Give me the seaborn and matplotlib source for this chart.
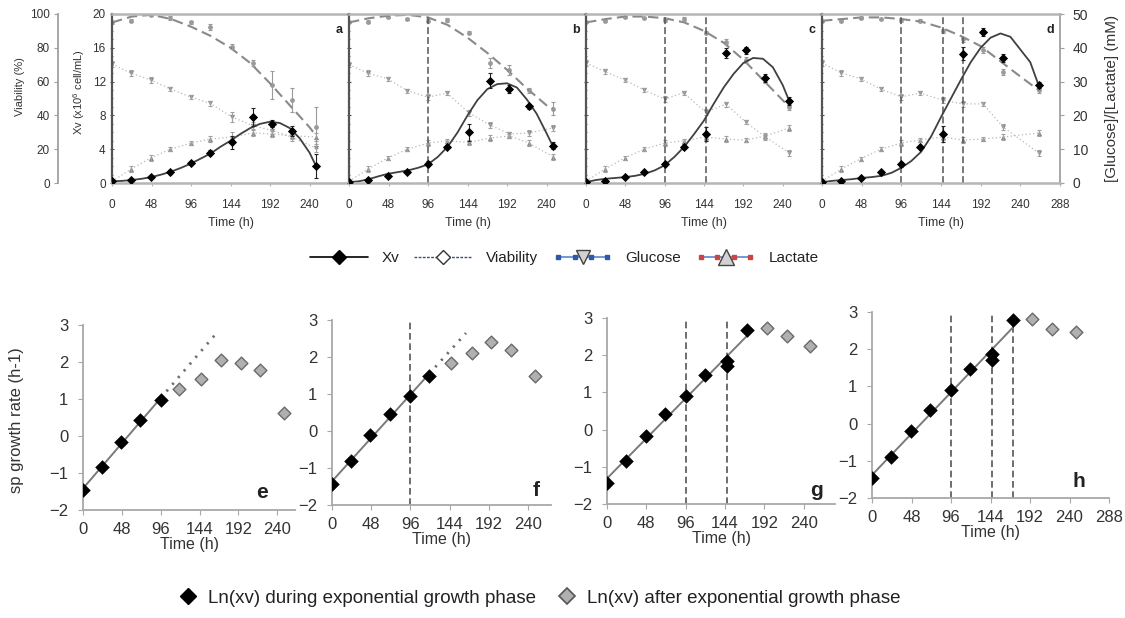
import numpy as np
import matplotlib
matplotlib.use("Agg")
import matplotlib.pyplot as plt
import seaborn as sns
from matplotlib.lines import Line2D
from matplotlib.legend_handler import HandlerLine2D, HandlerTuple
from matplotlib.ticker import MultipleLocator

sns.set_style("ticks")
plt.rcParams["font.family"] = ["Liberation Sans", "DejaVu Sans"]
plt.rcParams["mathtext.fontset"] = "custom"
plt.rcParams["mathtext.rm"] = "Liberation Sans"
plt.rcParams["mathtext.it"] = "Liberation Sans:italic"

# ---------------- culture profiles (panels a-d) ----------------
time_h = [0, 23, 47, 71, 96, 119, 146, 171, 195, 219, 248]
time_h_d = [0, 23, 47, 71, 96, 119, 146, 171, 195, 219, 262]

# viable cell density, x10^6 cell/mL
xv_a = [0.2, 0.3, 0.7, 1.3, 2.4, 3.6, 4.8, 7.8, 7.0, 6.2, 2.0]
xv_b = [0.1, 0.3, 0.8, 1.3, 2.3, 4.3, 6.0, 12.1, 11.1, 9.1, 4.4]
xv_c = [0.1, 0.2, 0.7, 1.3, 2.3, 4.3, 5.8, 15.4, 15.7, 12.4, 9.7]
xv_d = [0.1, 0.2, 0.6, 1.3, 2.2, 4.3, 5.8, 15.3, 17.9, 14.8, 11.6]
xv_err_a = [0.1, 0.1, 0.1, 0.2, 0.2, 0.3, 0.8, 1.1, 0.4, 0.6, 1.4]
xv_err_b = [0.05, 0.1, 0.1, 0.1, 0.3, 0.2, 1.0, 0.9, 0.5, 0.3, 0.4]
xv_err_c = [0.05, 0.1, 0.1, 0.1, 0.2, 0.3, 0.8, 0.6, 0.4, 0.5, 0.5]
xv_err_d = [0.05, 0.1, 0.1, 0.1, 0.3, 0.2, 0.9, 0.8, 0.5, 0.5, 0.4]

# viability, %
viab_a = [95, 96, 99.4, 97.6, 95, 92.3, 80.5, 71, 58, 49, 33]
viab_b = [95, 95.5, 98, 97, 96, 96.4, 89, 71, 67, 55, 44]
viab_c = [95, 96, 98, 97.5, 96.5, 97, 89, 83.6, 72.8, 61, 45]
viab_d = [96, 96, 97.5, 97, 96.5, 96, 90, 85, 78.7, 65.7, 55]
viab_err_a = [1, 1, 0.5, 1, 1, 1.5, 1.5, 2, 8, 7, 12]
viab_err_b = [0.5, 1, 0.5, 0.5, 1, 1, 1, 3, 3, 1.5, 4]
viab_err_c = [0.5, 0.5, 0.5, 0.5, 1, 1, 1, 1.5, 1.5, 2, 2]
viab_err_d = [0.5, 0.5, 0.5, 0.5, 1, 1, 1, 1.5, 1.5, 2, 1.5]

# glucose and lactate, mM
gluc_a = [35.2, 32.5, 30.5, 27.8, 25.4, 23.6, 19.5, 17.0, 15.5, 13.5, 10.3]
gluc_b = [35.0, 32.5, 30.8, 27.3, 25.4, 26.6, 20.7, 17.2, 14.5, 14.8, 16.3]
gluc_c = [35.5, 33.0, 30.5, 27.5, 24.8, 26.7, 21.0, 23.3, 18.0, 13.6, 8.9]
gluc_d = [35.5, 32.6, 30.8, 27.8, 25.5, 26.6, 24.5, 23.4, 23.4, 16.6, 8.9]
lact_a = [0.5, 4.1, 7.4, 10.0, 11.8, 13.0, 13.6, 14.8, 14.5, 14.0, 13.6]
lact_b = [0.5, 4.1, 7.4, 10.0, 11.8, 12.5, 12.0, 13.3, 13.9, 11.8, 7.7]
lact_c = [0.5, 4.1, 7.4, 10.0, 11.8, 12.5, 13.6, 13.0, 12.7, 13.9, 16.3]
lact_d = [0.5, 4.1, 7.2, 10.0, 11.8, 12.8, 13.6, 12.7, 13.0, 13.6, 14.8]
met_err_a = [0.8, 0.8, 0.8, 0.6, 0.6, 0.8, 1.5, 1.0, 1.0, 1.0, 1.2]
met_err_b = [0.8, 0.8, 0.6, 0.6, 0.8, 0.6, 0.8, 0.8, 0.6, 0.8, 0.8]
met_err_c = [0.8, 0.8, 0.6, 0.6, 0.8, 0.6, 0.8, 0.8, 0.6, 0.8, 0.8]
met_err_d = [0.8, 0.8, 0.6, 0.6, 0.8, 0.6, 0.8, 0.8, 0.6, 0.8, 0.8]

# fitted Xv curves
fit_t_abc = [0, 12, 24, 36, 48, 60, 72, 84, 96, 108, 120, 132, 144, 156,
             168, 180, 192, 204, 216, 228, 240, 248]
fit_t_d = [0, 12, 24, 36, 48, 60, 72, 84, 96, 108, 120, 132, 144, 156,
           168, 180, 192, 204, 216, 228, 240, 252, 262]
fit_xv_a = [0.2, 0.25, 0.35, 0.5, 0.7, 1.0, 1.35, 1.8, 2.3, 2.9, 3.5, 4.3,
            5.0, 5.8, 6.5, 7.0, 7.25, 7.1, 6.5, 5.3, 3.6, 2.0]
fit_xv_b = [0.1, 0.2, 0.45, 0.8, 1.1, 1.3, 1.5, 1.8, 2.2, 3.1, 4.3, 6.0,
            8.0, 9.8, 11.1, 11.7, 11.8, 11.3, 9.9, 8.2, 5.9, 4.3]
fit_xv_c = [0.1, 0.35, 0.5, 0.6, 0.7, 0.85, 1.1, 1.5, 2.1, 3.1, 4.3, 5.8,
            7.4, 9.4, 11.3, 12.9, 14.2, 14.8, 14.7, 13.7, 11.6, 9.7]
fit_xv_d = [0.1, 0.25, 0.35, 0.45, 0.6, 0.7, 0.85, 1.2, 1.8, 2.6, 3.7, 5.5,
            7.8, 10.0, 12.2, 14.3, 16.0, 17.2, 17.7, 17.3, 15.8, 14.3, 11.6]

# fitted viability curves
vfit_t_abc = [0, 24, 48, 72, 96, 120, 144, 168, 192, 216, 240, 248]
vfit_t_d = [0, 24, 48, 72, 96, 120, 144, 168, 192, 216, 240, 262]
vfit_a = [95, 98.5, 99.5, 97, 92.5, 87, 80, 71, 59, 46, 33, 28]
vfit_b = [95, 97.5, 99, 99.5, 98, 93.5, 86, 77, 67, 56, 46, 44]
vfit_c = [95, 97, 98.5, 98.5, 97.5, 95, 90, 83, 73, 61, 49, 45]
vfit_d = [96, 97, 98, 98, 97, 95.5, 92, 87, 81, 72, 63, 55]

# ends of the exponential phase, h
phases_a = []
phases_b = [96]
phases_c = [96, 146]
phases_d = [96, 146, 171]

# ---------------- ln(Xv) (panels e-h) ----------------
t_exp_e = [0, 23, 47, 71, 96]
ln_exp_e = [-1.45, -0.85, -0.15, 0.42, 0.97]
t_post_e = [119, 146, 171, 195, 219, 248]
ln_post_e = [1.28, 1.55, 2.05, 1.97, 1.78, 0.63]

t_exp_f = [0, 23, 47, 71, 96, 119]
ln_exp_f = [-1.42, -0.82, -0.12, 0.45, 0.95, 1.50]
t_post_f = [146, 171, 195, 219, 248]
ln_post_f = [1.85, 2.10, 2.40, 2.20, 1.50]

t_exp_g = [0, 23, 47, 71, 96, 119, 146, 146, 171]
ln_exp_g = [-1.43, -0.84, -0.16, 0.43, 0.89, 1.46, 1.84, 1.70, 2.68]
t_post_g = [195, 219, 248]
ln_post_g = [2.73, 2.51, 2.24]

t_exp_h = [0, 23, 47, 71, 96, 119, 146, 146, 171]
ln_exp_h = [-1.47, -0.89, -0.19, 0.36, 0.89, 1.47, 1.86, 1.72, 2.78]
t_post_h = [195, 219, 248]
ln_post_h = [2.80, 2.55, 2.47]

# projected fit beyond the exponential phase (h); None = no projection
proj_end_e = 165
proj_end_f = 164

W, H = 1125, 618
TXT = "#333333"
FRAME = "#b5b5b5"
DIV = "#555555"

fig = plt.figure(figsize=(W / 100, H / 100), dpi=100)
fig.patch.set_facecolor("white")


def rect(x0, y0, x1, y1):
    return [x0 / W, 1 - y1 / H, (x1 - x0) / W, (y1 - y0) / H]


def culture_panel(r, t, xv, xv_err, viab, viab_err, gluc, lact, met_err,
                  fit_t, fit_xv, vfit_t, vfit, phases, tag, first, last):
    ax = fig.add_axes(r)
    axg = ax.twinx()
    axv = ax.twinx()
    axg.set_zorder(1)
    axv.set_zorder(2)
    ax.set_zorder(3)
    ax.patch.set_visible(False)

    # glucose / lactate
    for vals, mk in ((gluc, "v"), (lact, "^")):
        sns.lineplot(x=t, y=vals, ax=axg, color="#b8b8b8", lw=0.9,
                     linestyle=(0, (1, 2)), estimator=None, sort=False)
        axg.errorbar(t, vals, yerr=met_err, fmt="none", ecolor="#a0a0a0",
                     elinewidth=0.8, capsize=1.5, capthick=0.8)
        sns.scatterplot(x=t, y=vals, ax=axg, marker=mk, s=14,
                        color="#8c8c8c", linewidth=0)

    # viability
    sns.lineplot(x=vfit_t, y=vfit, ax=axv, color="#8a8a8a", lw=1.5,
                 linestyle=(0, (5, 2.5)), estimator=None, sort=False)
    axv.errorbar(t, viab, yerr=viab_err, fmt="none", ecolor="#9a9a9a",
                 elinewidth=0.8, capsize=1.5, capthick=0.8)
    sns.scatterplot(x=t, y=viab, ax=axv, marker="o", s=12,
                    color="#9a9a9a", linewidth=0)

    # viable cell density
    for p in phases:
        ax.axvline(p, color=DIV, lw=1.1, ls=(0, (4.5, 2)), zorder=1)
    sns.lineplot(x=fit_t, y=fit_xv, ax=ax, color="#404040", lw=1.3,
                 estimator=None, sort=False)
    ax.errorbar(t, xv, yerr=xv_err, fmt="none", ecolor="#222222",
                elinewidth=0.8, capsize=1.5, capthick=0.8)
    sns.scatterplot(x=t, y=xv, ax=ax, marker="D", s=22, color="black",
                    linewidth=0, zorder=5)

    ax.set_xlim(0, 288)
    ax.set_ylim(0, 20)
    axv.set_ylim(0, 100)
    axg.set_ylim(0, 50)

    for a in (ax, axv, axg):
        for s in a.spines.values():
            s.set_visible(False)
    for s in ("top", "bottom"):
        ax.spines[s].set_visible(True)
        ax.spines[s].set_color(FRAME)
        ax.spines[s].set_linewidth(1.8)
    ax.spines["left"].set_visible(True)
    ax.spines["left"].set_color(DIV)
    ax.spines["left"].set_linewidth(1.6)

    ax.set_xticks(list(range(0, last + 1, 48)))
    ax.tick_params(axis="x", length=2.5, color=FRAME, labelsize=8.5,
                   labelcolor=TXT, pad=9)
    ax.set_yticks([0, 4, 8, 12, 16, 20])
    ax.yaxis.set_minor_locator(MultipleLocator(1))
    ax.tick_params(axis="y", which="both", direction="inout", length=3,
                   color=DIV, labelsize=8.5, labelcolor=TXT, pad=3,
                   labelleft=first)
    ax.tick_params(axis="y", which="minor", length=2)
    ax.set_xlabel("Time (h)", fontsize=9, color=TXT, labelpad=4)
    ax.set_ylabel("")
    axv.set_ylabel("")
    axg.set_ylabel("")

    if first:
        axv.spines["left"].set_visible(True)
        axv.spines["left"].set_color("#a0a0a0")
        axv.spines["left"].set_linewidth(1.3)
        axv.spines["left"].set_position(("outward", 54 * 0.72))
        axv.yaxis.tick_left()
        axv.yaxis.set_label_position("left")
        axv.set_yticks(list(range(0, 101, 20)))
        axv.tick_params(axis="y", length=3, color="#a0a0a0", labelsize=8.5,
                        labelcolor=TXT, pad=3)
        axv.set_ylabel("Viability (%)", fontsize=8, color=TXT)
        axv.yaxis.set_label_coords(-0.367, 0.57)
        ax.set_ylabel("Xv (x10$^{6}$ cell/mL)", fontsize=8, color=TXT)
        ax.yaxis.set_label_coords(-0.105, 0.54)
    else:
        axv.tick_params(axis="y", left=False, right=False,
                        labelleft=False, labelright=False)

    if tag == "d":
        axg.spines["right"].set_visible(True)
        axg.spines["right"].set_color("#a0a0a0")
        axg.spines["right"].set_linewidth(1.3)
        axg.set_yticks(list(range(0, 51, 10)))
        axg.tick_params(axis="y", length=3, color="#a0a0a0", labelsize=10,
                        labelcolor=TXT, pad=6)
        axg.set_ylabel("[Glucose]/[Lactate] (mM)", fontsize=11, color=TXT)
        axg.yaxis.set_label_coords(1.19, 0.5)
    else:
        axg.tick_params(axis="y", left=False, right=False,
                        labelleft=False, labelright=False)

    ax.text(0.958, 0.905, tag, transform=ax.transAxes, fontsize=9,
            fontweight="bold", ha="center", va="center", color="#222222")
    return ax


top_x = [112, 349, 586, 822, 1060]
panels_top = [
    (time_h, xv_a, xv_err_a, viab_a, viab_err_a, gluc_a, lact_a, met_err_a,
     fit_t_abc, fit_xv_a, vfit_t_abc, vfit_a, phases_a, "a", True, 240),
    (time_h, xv_b, xv_err_b, viab_b, viab_err_b, gluc_b, lact_b, met_err_b,
     fit_t_abc, fit_xv_b, vfit_t_abc, vfit_b, phases_b, "b", False, 240),
    (time_h, xv_c, xv_err_c, viab_c, viab_err_c, gluc_c, lact_c, met_err_c,
     fit_t_abc, fit_xv_c, vfit_t_abc, vfit_c, phases_c, "c", False, 240),
    (time_h_d, xv_d, xv_err_d, viab_d, viab_err_d, gluc_d, lact_d, met_err_d,
     fit_t_d, fit_xv_d, vfit_t_d, vfit_d, phases_d, "d", False, 288),
]
for i, args in enumerate(panels_top):
    culture_panel(rect(top_x[i], 14, top_x[i + 1], 183), *args)


def growth_panel(r, t_exp, ln_exp, t_post, ln_post, proj_end, phases, tag,
                 xmax, last, tag_xy, ylabel=False):
    ax = fig.add_axes(r)
    for p in phases:
        ax.axvline(p, color=DIV, lw=1.2, ls=(0, (4, 2.2)), zorder=1)
    sns.regplot(x=t_exp, y=ln_exp, ax=ax, ci=None, scatter=False,
                truncate=True, line_kws=dict(color="#7a7a7a", lw=1.4))
    if proj_end is not None:
        slope, icpt = np.polyfit(t_exp, ln_exp, 1)
        tt = [t_exp[-1], proj_end]
        sns.lineplot(x=tt, y=[icpt + slope * v for v in tt], ax=ax,
                     color="#6f6f6f", lw=2.0, linestyle=(0, (0.8, 2.4)),
                     estimator=None, sort=False)
    sns.scatterplot(x=t_post, y=ln_post, ax=ax, marker="D", s=42,
                    color="#b0b0b0", edgecolor="#6a6a6a", linewidth=1.0,
                    zorder=4)
    sns.scatterplot(x=t_exp, y=ln_exp, ax=ax, marker="D", s=55,
                    color="black", linewidth=0, zorder=5)
    ax.set_xlim(0, xmax)
    ax.set_ylim(-2, 3)
    for s in ("top", "right"):
        ax.spines[s].set_visible(False)
    for s in ("left", "bottom"):
        ax.spines[s].set_color("#a8a8a8")
        ax.spines[s].set_linewidth(1.3)
    ax.set_xticks(list(range(0, last + 1, 48)))
    ax.set_yticks([-2, -1, 0, 1, 2, 3])
    ax.tick_params(axis="both", length=3.5, color="#a8a8a8", labelsize=12,
                   labelcolor=TXT)
    ax.tick_params(axis="y", pad=7)
    ax.tick_params(axis="x", pad=5)
    ax.set_xlabel("Time (h)", fontsize=11.5, color=TXT, labelpad=0)
    ax.set_ylabel("")
    if ylabel:
        ax.set_ylabel("sp growth rate (h-1)", fontsize=12, color=TXT)
        ax.yaxis.set_label_coords(-0.278, 0.486)
    ax.text(tag_xy[0], tag_xy[1], tag, transform=ax.transAxes, fontsize=15,
            fontweight="bold", ha="center", va="center", color="#222222")
    return ax


growth_panel(rect(83, 325, 295, 510), t_exp_e, ln_exp_e, t_post_e, ln_post_e,
             proj_end_e, [], "e", 262, 240, (0.845, 0.092), ylabel=True)
growth_panel(rect(332, 320, 551, 505), t_exp_f, ln_exp_f, t_post_f, ln_post_f,
             proj_end_f, [96], "f", 268, 240, (0.93, 0.08))
growth_panel(rect(607, 318, 835, 504), t_exp_g, ln_exp_g, t_post_g, ln_post_g,
             None, [96, 146], "g", 278, 240, (0.917, 0.075))
growth_panel(rect(872, 312, 1109, 498), t_exp_h, ln_exp_h, t_post_h, ln_post_h,
             None, [96, 146, 171], "h", 288, 288, (0.873, 0.09))

# ---------------- legends ----------------
h_xv = Line2D([], [], color="black", lw=1.2, marker="D", markersize=7,
              markerfacecolor="black", markeredgecolor="black")
h_viab = Line2D([], [], color="#3b4f7a", lw=1.0, ls=(0, (2, 1)), marker="D",
                markersize=7, markerfacecolor="white",
                markeredgecolor="#333333")
gl_line = Line2D([], [], color="#5a86cc", lw=1.2, marker="s", markersize=2.6,
                 markerfacecolor="#2c5aa8", markeredgecolor="#2c5aa8")
gl_mark = Line2D([], [], ls="none", marker="v", markersize=10,
                 markerfacecolor="#d2d2d2", markeredgecolor="#444444")
la_line = Line2D([], [], color="#5a86cc", lw=1.2, marker="s", markersize=3,
                 markerfacecolor="#cc4444", markeredgecolor="#cc4444")
la_mark = Line2D([], [], ls="none", marker="^", markersize=11,
                 markerfacecolor="#d2d2d2", markeredgecolor="#444444")
fig.legend([h_xv, h_viab, (gl_line, gl_mark), (la_line, la_mark)],
           ["Xv", "Viability", "Glucose", "Lactate"],
           handler_map={gl_line: HandlerLine2D(numpoints=4),
                        la_line: HandlerLine2D(numpoints=4),
                        tuple: HandlerTuple(ndivide=1, pad=0)},
           loc="center", bbox_to_anchor=(564 / W, 1 - 258 / H), ncol=4,
           frameon=False, fontsize=11, handlelength=3.8, handletextpad=0.9,
           columnspacing=1.0, numpoints=1, labelcolor="#222222")

h_exp = Line2D([], [], ls="none", marker="D", markersize=8,
               markerfacecolor="black", markeredgecolor="black")
h_post = Line2D([], [], ls="none", marker="D", markersize=8,
                markerfacecolor="#b0b0b0", markeredgecolor="#555555",
                markeredgewidth=1.2)
fig.legend([h_exp, h_post],
           ["Ln(xv) during exponential growth phase",
            "Ln(xv) after exponential growth phase"],
           loc="center", bbox_to_anchor=(540 / W, 1 - 598 / H), ncol=2,
           frameon=False, fontsize=13.5, handlelength=0.9, handletextpad=0.6,
           columnspacing=1.2, labelcolor="#222222")

fig.savefig("out.png", dpi=100, facecolor="white")
